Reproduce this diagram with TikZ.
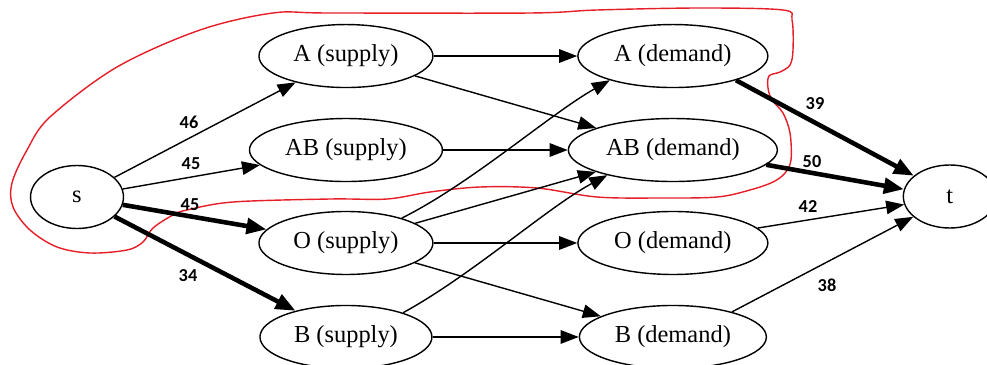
\documentclass[tikz,border=0pt]{standalone}
\usepackage{fontspec}
\setmainfont{Liberation Serif}
\newfontfamily\labelfont{Carlito}
\usetikzlibrary{positioning,arrows.meta,shapes.geometric,calc}
\definecolor{cutred}{RGB}{230,30,40}
\tikzset{
  vertex/.style={
    draw, ellipse, line width=0.8pt, inner sep=0pt,
    minimum width=18.6mm, minimum height=12.6mm,
    font=\fontsize{13.9pt}{16pt}\selectfont
  },
  supply/.style={vertex, minimum width=34.8mm},
  demand/.style={vertex, minimum width=38mm},
  arrow/.style={-{Triangle[length=3.6mm,width=2.7mm]}, line width=0.8pt},
  heavy/.style={-{Triangle[length=4mm,width=3.1mm]}, line width=2.6pt},
  flowlabel/.style={font=\labelfont\bfseries\fontsize{10.4pt}{12pt}\selectfont, inner sep=1pt},
  cutline/.style={draw=cutred, line width=0.8pt}
}
\begin{document}
\begin{tikzpicture}[x=0.02cm, y=-0.02cm, on grid]
  \useasboundingbox (0,0) rectangle (987,365);
  \clip (0,0) rectangle (987,365);

  % source, supply and demand columns, sink
  \node[vertex] (s) at (77,197) {s};
  \node[supply, above right=2.82cm and 5.38cm of s] (As) {A (supply)};
  \node[supply, below=1.88cm of As, minimum width=38.6mm] (ABs) {AB (supply)};
  \node[supply, below=1.86cm of ABs] (Os) {O (supply)};
  \node[supply, below=1.88cm of Os, minimum width=34.4mm] (Bs) {B (supply)};

  \node[demand, right=6.54cm of As] (Ad) {A (demand)};
  \node[demand, right=6.54cm of ABs, minimum width=41.8mm] (ABd) {AB (demand)};
  \node[demand, right=6.54cm of Os] (Od) {O (demand)};
  \node[demand, right=6.54cm of Bs, minimum width=37.4mm] (Bd) {B (demand)};

  \node[vertex, right=5.54cm of $(ABd)!0.5!(Od)$, anchor=center] (t) {t};

  % the cut
  \draw[cutline] plot[smooth cycle, tension=0.55] coordinates {
    (273,13) (200,30) (117,67) (50,117) (27,150) (12,183) (13,207)
    (30,230) (57,247) (90,253) (127,250) (143,242) (153,228) (173,215)
    (187,210) (233,202) (330,199) (387,199) (430,192) (480,187) (537,188)
    (597,197) (660,198) (717,197) (750,190) (773,182) (785,173) (791,160)
    (790,133) (783,113) (772,100) (768,88) (769,76) (780,72) (790,65)
    (793,50) (792,20) (783,10) (700,8) (597,10) (530,13) (330,13)};

  % edges out of s
  \draw[arrow] (s) -- (As);
  \draw[arrow] (s) -- (ABs);
  \draw[heavy] (s) -- (Os);
  \draw[heavy] (s) -- (Bs);

  % supply to demand
  \draw[arrow] (As) -- (Ad);
  \draw[arrow] (As) -- (ABd);
  \draw[arrow] (ABs) -- (ABd);
  \draw[arrow] (Os.24) .. controls (472,183) and (550,114) .. (Ad.201);
  \draw[arrow] (Os) -- (ABd);
  \draw[arrow] (Os) -- (Od);
  \draw[arrow] (Os) -- (Bd);
  \draw[arrow] (Bs.23) .. controls (472,275) and (548,207) .. (ABd.201);
  \draw[arrow] (Bs) -- (Bd);

  % into t
  \draw[heavy] (Ad.-21) -- (t.150);
  \draw[heavy] (ABd.-9) -- (t.171);
  \draw[arrow] (Od.10) -- (t.190);
  \draw[arrow] (Bd.23) -- (t.209);

  % flows
  \node[flowlabel] (fAs) at (189,122) {46};
  \node[flowlabel] (fABs) at (191,164) {45};
  \node[flowlabel] (fOs) at (190,205) {45};
  \node[flowlabel] (fBs) at (188,276) {34};
  \node[flowlabel] (fAd) at (815,104) {39};
  \node[flowlabel] (fABd) at (812,162) {50};
  \node[flowlabel] (fOd) at (808,207) {42};
  \node[flowlabel] (fBd) at (827,285) {38};
\end{tikzpicture}
\end{document}
